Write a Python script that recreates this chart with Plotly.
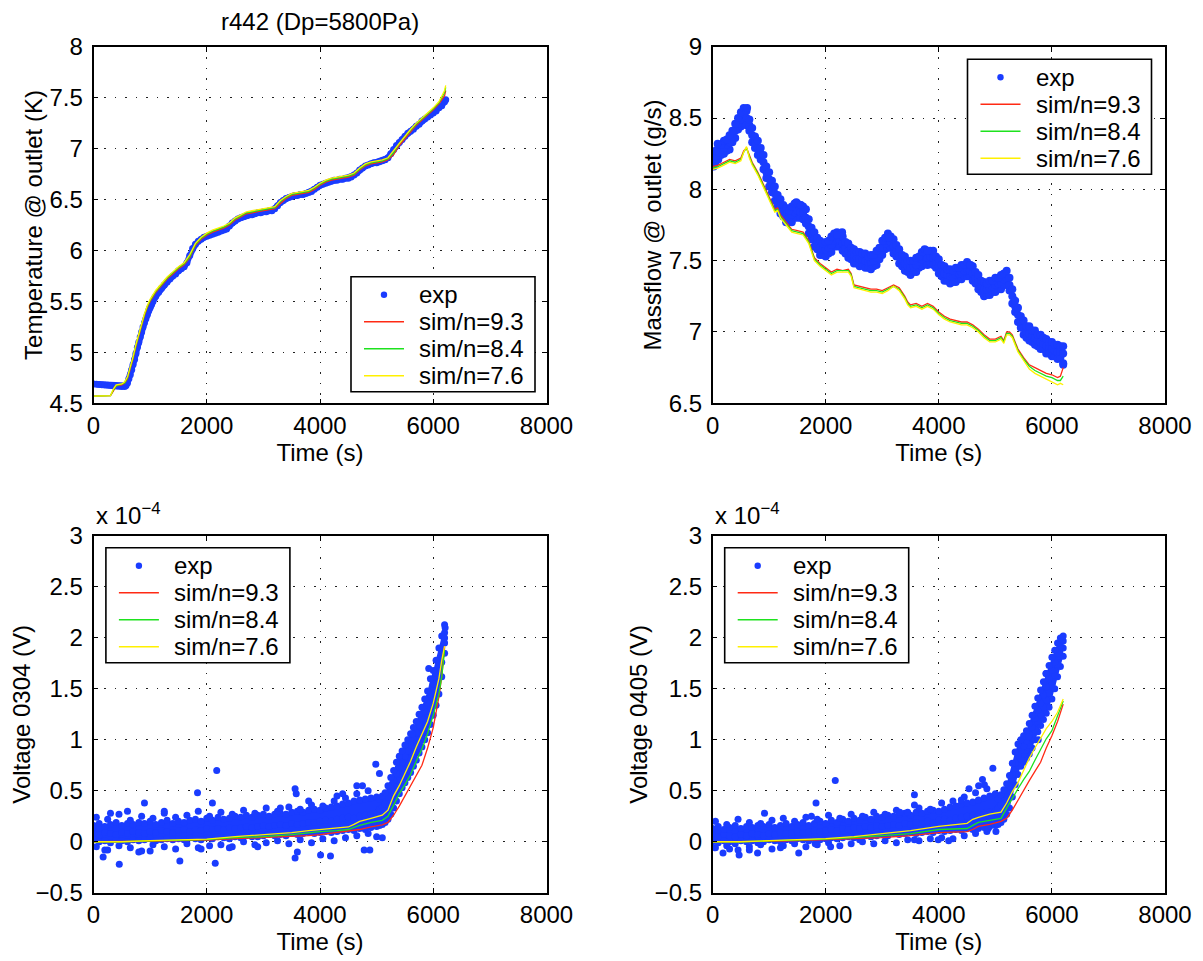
import plotly.graph_objects as go

# ---------------- Temperature @ outlet (K) ----------------
temp_exp_t = [0, 50, 100, 150, 200, 250, 300, 350, 400, 450, 500, 550,
              575, 600, 625, 650, 675, 700, 725, 750, 775, 800, 825, 850, 875, 900, 925, 950,
              975, 1000, 1025, 1050, 1075, 1100] + list(range(1150, 6201, 50)) + [6220]
temp_exp = [4.69, 4.688, 4.685, 4.682, 4.68, 4.678, 4.675, 4.672, 4.67, 4.668, 4.665, 4.665,
            4.675, 4.70, 4.74, 4.78, 4.83, 4.88, 4.93, 4.99, 5.05, 5.10, 5.15, 5.20, 5.25, 5.29,
            5.33, 5.37, 5.41, 5.44, 5.47, 5.50, 5.53, 5.55,
            5.59, 5.63, 5.66, 5.69, 5.72, 5.75, 5.77, 5.80, 5.82,
            5.84, 5.88, 5.95, 6.02, 6.06, 6.09, 6.11, 6.13, 6.14, 6.15,
            6.16, 6.17, 6.18, 6.19, 6.20, 6.21, 6.24, 6.27, 6.29, 6.31,
            6.32, 6.33, 6.34, 6.35, 6.35, 6.36, 6.37, 6.37, 6.38, 6.38,
            6.39, 6.39, 6.41, 6.44, 6.47, 6.49, 6.51, 6.52, 6.53, 6.54,
            6.54, 6.55, 6.55, 6.56, 6.57, 6.58, 6.60, 6.62, 6.64, 6.65,
            6.66, 6.67, 6.68, 6.69, 6.69, 6.70, 6.70, 6.71, 6.71, 6.72,
            6.74, 6.76, 6.79, 6.81, 6.83, 6.84, 6.85, 6.86, 6.86, 6.87,
            6.88, 6.89, 6.91, 6.95, 6.99, 7.03, 7.06, 7.09, 7.12, 7.15,
            7.17, 7.19, 7.22, 7.24, 7.27, 7.29, 7.31, 7.33, 7.35, 7.37,
            7.40, 7.42, 7.46, 7.48]

temp_sim_t = [0, 100, 200, 300, 350, 400, 500, 550,
              600, 650, 700, 750, 800, 850, 900, 950, 1000] + list(range(1100, 6201, 100)) + [6220]
temp_sim_93 = [4.57, 4.57, 4.57, 4.575, 4.62, 4.67, 4.68, 4.70,
               4.74, 4.83, 4.94, 5.06, 5.17, 5.27, 5.36, 5.44, 5.50,
               5.59, 5.66, 5.72, 5.77, 5.82, 5.86, 5.93, 6.05, 6.11, 6.15,
               6.18, 6.20, 6.22, 6.25, 6.30, 6.33, 6.36, 6.37, 6.38, 6.39,
               6.40, 6.41, 6.46, 6.51, 6.54, 6.55, 6.56, 6.57, 6.60, 6.64,
               6.67, 6.69, 6.70, 6.71, 6.72, 6.74, 6.79, 6.83, 6.85, 6.86,
               6.87, 6.89, 6.94, 7.03, 7.10, 7.17, 7.23, 7.28, 7.33, 7.38,
               7.44, 7.52, 7.57]
temp_sim_84 = [4.57, 4.57, 4.57, 4.575, 4.63, 4.67, 4.69, 4.70,
               4.75, 4.84, 4.95, 5.07, 5.18, 5.28, 5.37, 5.45, 5.51,
               5.60, 5.67, 5.73, 5.78, 5.83, 5.87, 5.94, 6.06, 6.12, 6.16,
               6.19, 6.21, 6.23, 6.26, 6.31, 6.34, 6.37, 6.38, 6.39, 6.40,
               6.41, 6.42, 6.48, 6.52, 6.55, 6.56, 6.57, 6.58, 6.61, 6.65,
               6.68, 6.70, 6.71, 6.72, 6.73, 6.75, 6.80, 6.84, 6.86, 6.87,
               6.88, 6.90, 6.96, 7.05, 7.12, 7.18, 7.24, 7.29, 7.34, 7.39,
               7.45, 7.55, 7.60]
temp_sim_76 = [4.57, 4.57, 4.57, 4.575, 4.64, 4.68, 4.69, 4.71,
               4.76, 4.85, 4.96, 5.08, 5.19, 5.29, 5.38, 5.46, 5.52,
               5.61, 5.68, 5.74, 5.79, 5.84, 5.88, 5.96, 6.07, 6.13, 6.17,
               6.20, 6.22, 6.24, 6.27, 6.32, 6.35, 6.38, 6.39, 6.40, 6.41,
               6.42, 6.43, 6.49, 6.53, 6.56, 6.57, 6.58, 6.59, 6.62, 6.66,
               6.69, 6.71, 6.72, 6.73, 6.74, 6.76, 6.81, 6.85, 6.87, 6.88,
               6.89, 6.91, 6.98, 7.06, 7.13, 7.19, 7.25, 7.30, 7.35, 7.40,
               7.46, 7.57, 7.62]

# ---------------- Massflow @ outlet (g/s) ----------------
mf_exp_t = list(range(0, 6201, 50))
mf_exp_mid = [8.21, 8.23, 8.26, 8.28, 8.29, 8.31, 8.33, 8.37, 8.41, 8.46,
              8.49, 8.53, 8.50, 8.45, 8.38, 8.33, 8.29, 8.25, 8.19, 8.12,
              8.07, 8.02, 7.97, 7.92, 7.88, 7.85, 7.82, 7.81, 7.82, 7.84,
              7.85, 7.84, 7.84, 7.80, 7.74, 7.69, 7.65, 7.62, 7.59, 7.58,
              7.58, 7.59, 7.61, 7.64, 7.65, 7.64, 7.62, 7.59, 7.57, 7.55,
              7.53, 7.52, 7.51, 7.51, 7.50, 7.49, 7.49, 7.50, 7.52, 7.55,
              7.59, 7.62, 7.64, 7.63, 7.60, 7.57, 7.53, 7.50, 7.48, 7.46,
              7.45, 7.46, 7.47, 7.49, 7.51, 7.53, 7.52, 7.53, 7.52, 7.49,
              7.46, 7.43, 7.41, 7.40, 7.39, 7.39, 7.40, 7.41, 7.42, 7.43,
              7.44, 7.43, 7.41, 7.38, 7.35, 7.32, 7.30, 7.30, 7.31, 7.32,
              7.33, 7.34, 7.35, 7.37, 7.38, 7.33, 7.25, 7.18, 7.12, 7.07,
              7.03, 7.00, 6.99, 6.97, 6.96, 6.94, 6.93, 6.92, 6.90, 6.89,
              6.88, 6.87, 6.86, 6.86, 6.85]
mf_exp_hi = [8.26, 8.27, 8.31, 8.31, 8.34, 8.35, 8.38, 8.41, 8.46, 8.50,
             8.54, 8.57, 8.55, 8.49, 8.43, 8.37, 8.34, 8.29, 8.24, 8.16,
             8.12, 8.06, 8.02, 7.96, 7.93, 7.89, 7.87, 7.85, 7.88, 7.90,
             7.90, 7.89, 7.88, 7.86, 7.79, 7.73, 7.70, 7.66, 7.64, 7.62,
             7.63, 7.64, 7.67, 7.69, 7.70, 7.68, 7.67, 7.63, 7.62, 7.59,
             7.58, 7.56, 7.56, 7.55, 7.55, 7.53, 7.54, 7.54, 7.57, 7.59,
             7.64, 7.66, 7.69, 7.67, 7.65, 7.61, 7.58, 7.54, 7.53, 7.50,
             7.50, 7.50, 7.52, 7.53, 7.56, 7.58, 7.57, 7.57, 7.57, 7.53,
             7.51, 7.47, 7.46, 7.44, 7.44, 7.43, 7.45, 7.45, 7.47, 7.47,
             7.49, 7.47, 7.46, 7.42, 7.40, 7.36, 7.35, 7.34, 7.36, 7.36,
             7.38, 7.38, 7.40, 7.41, 7.43, 7.38, 7.30, 7.22, 7.17, 7.11,
             7.08, 7.04, 7.04, 7.01, 7.01, 6.98, 6.98, 6.96, 6.95, 6.93,
             6.93, 6.91, 6.91, 6.90, 6.90]
mf_exp_lo = [8.17, 8.19, 8.21, 8.24, 8.25, 8.27, 8.28, 8.33, 8.36, 8.42,
             8.44, 8.49, 8.45, 8.41, 8.33, 8.29, 8.24, 8.21, 8.14, 8.08,
             8.02, 7.98, 7.92, 7.88, 7.83, 7.81, 7.77, 7.77, 7.77, 7.80,
             7.80, 7.80, 7.79, 7.76, 7.69, 7.65, 7.60, 7.58, 7.54, 7.54,
             7.53, 7.55, 7.56, 7.60, 7.60, 7.60, 7.57, 7.55, 7.52, 7.51,
             7.48, 7.48, 7.46, 7.47, 7.45, 7.45, 7.44, 7.46, 7.47, 7.51,
             7.54, 7.58, 7.59, 7.59, 7.55, 7.53, 7.48, 7.46, 7.43, 7.42,
             7.40, 7.42, 7.42, 7.45, 7.46, 7.49, 7.47, 7.49, 7.47, 7.45,
             7.41, 7.39, 7.36, 7.36, 7.34, 7.35, 7.35, 7.37, 7.37, 7.39,
             7.39, 7.39, 7.36, 7.34, 7.30, 7.28, 7.25, 7.26, 7.26, 7.28,
             7.28, 7.30, 7.30, 7.33, 7.33, 7.29, 7.20, 7.14, 7.07, 7.03,
             6.98, 6.96, 6.94, 6.93, 6.91, 6.90, 6.88, 6.88, 6.85, 6.85,
             6.83, 6.83, 6.81, 6.82, 6.78]
mf_out_t = [2290, 1480, 1560, 610, 6200, 3120, 4560, 2200, 3800, 90, 20]
mf_out = [7.70, 7.91, 7.89, 8.57, 6.77, 7.66, 7.47, 7.68, 7.57, 8.32, 8.16]

mf_sim_t = [0, 100, 200, 300, 400, 500, 550, 600, 650, 700, 800, 900, 1000, 1100, 1150,
            1200, 1300, 1400, 1500, 1600, 1700, 1750, 1800, 1900, 2000, 2100, 2200, 2300,
            2400, 2450, 2500, 2600, 2700, 2800, 2900, 3000, 3100, 3200, 3300, 3400, 3450,
            3500, 3600, 3700, 3800, 3900, 4000, 4100, 4200, 4300, 4400, 4500, 4600, 4700,
            4800, 4900, 5000, 5100, 5150, 5200, 5250, 5300, 5400, 5500, 5600, 5700, 5800,
            5900, 6000, 6100, 6150, 6200]
mf_sim_93 = [8.16, 8.17, 8.19, 8.21, 8.20, 8.22, 8.27, 8.29, 8.24, 8.19,
             8.12, 8.03, 7.94, 7.86, 7.87, 7.82, 7.77, 7.72, 7.71, 7.70,
             7.64, 7.58, 7.52, 7.48, 7.45, 7.42, 7.44, 7.43, 7.44, 7.41,
             7.33, 7.32, 7.31, 7.30, 7.30, 7.29, 7.31, 7.33, 7.31, 7.25,
             7.21, 7.19, 7.20, 7.18, 7.20, 7.18, 7.14, 7.11, 7.09, 7.08,
             7.07, 7.07, 7.05, 7.02, 6.98, 6.95, 6.95, 6.97, 6.94, 7.00,
             7.00, 6.98, 6.88, 6.82, 6.77, 6.75, 6.73, 6.71, 6.70, 6.68,
             6.69, 6.75]
mf_sim_84 = [8.15, 8.16, 8.18, 8.20, 8.19, 8.21, 8.26, 8.29, 8.23, 8.18,
             8.11, 8.02, 7.93, 7.85, 7.86, 7.81, 7.76, 7.71, 7.70, 7.69,
             7.63, 7.57, 7.51, 7.47, 7.44, 7.41, 7.43, 7.43, 7.43, 7.40,
             7.32, 7.31, 7.30, 7.29, 7.29, 7.28, 7.30, 7.32, 7.30, 7.24,
             7.20, 7.18, 7.19, 7.17, 7.19, 7.17, 7.13, 7.10, 7.08, 7.07,
             7.06, 7.06, 7.04, 7.01, 6.97, 6.94, 6.94, 6.96, 6.93, 6.99,
             6.99, 6.97, 6.87, 6.81, 6.76, 6.73, 6.71, 6.69, 6.68, 6.66,
             6.66, 6.69]
mf_sim_76 = [8.14, 8.15, 8.17, 8.19, 8.18, 8.20, 8.26, 8.30, 8.22, 8.17,
             8.10, 8.01, 7.92, 7.84, 7.85, 7.80, 7.75, 7.70, 7.69, 7.68,
             7.62, 7.56, 7.50, 7.46, 7.43, 7.40, 7.42, 7.42, 7.42, 7.39,
             7.31, 7.30, 7.29, 7.28, 7.28, 7.27, 7.29, 7.32, 7.29, 7.23,
             7.19, 7.17, 7.18, 7.16, 7.18, 7.16, 7.12, 7.09, 7.07, 7.06,
             7.05, 7.05, 7.03, 7.00, 6.96, 6.93, 6.93, 6.95, 6.92, 6.98,
             6.98, 6.96, 6.86, 6.80, 6.74, 6.71, 6.69, 6.67, 6.65, 6.63,
             6.64, 6.63]

# ---------------- Voltages (units of 1e-4 V) ----------------
v_flat_t = list(range(0, 5001, 100))
v_steep_t = list(range(5050, 6201, 50))
v_edge_t = list(range(50, 5001, 200))

v0304_flat_lo = [0.02, 0.00, 0.01, -0.01, 0.02, 0.01, 0.00, 0.02, 0.01, 0.02, 0.03, 0.01, 0.02,
                 0.03, 0.02, 0.03, 0.02, 0.04, 0.03, 0.02, 0.04, 0.03, 0.05, 0.04, 0.03, 0.05,
                 0.04, 0.06, 0.05, 0.05, 0.06, 0.07, 0.06, 0.07, 0.06, 0.08, 0.07, 0.08, 0.09,
                 0.08, 0.09, 0.10, 0.09, 0.10, 0.11, 0.12, 0.11, 0.13, 0.12, 0.14, 0.15]
v0304_flat_mid = [0.08, 0.07, 0.09, 0.08, 0.07, 0.09, 0.08, 0.10, 0.09, 0.08, 0.10, 0.09, 0.11,
                  0.10, 0.09, 0.11, 0.12, 0.10, 0.12, 0.11, 0.13, 0.12, 0.13, 0.12, 0.14, 0.13,
                  0.14, 0.15, 0.14, 0.15, 0.16, 0.15, 0.16, 0.17, 0.16, 0.18, 0.17, 0.18, 0.19,
                  0.19, 0.20, 0.21, 0.20, 0.22, 0.23, 0.24, 0.23, 0.25, 0.26, 0.27, 0.28]
v0304_flat_hi = [0.16, 0.18, 0.15, 0.17, 0.19, 0.16, 0.18, 0.17, 0.19, 0.18, 0.20, 0.17, 0.19,
                 0.21, 0.18, 0.20, 0.19, 0.21, 0.22, 0.20, 0.23, 0.21, 0.24, 0.22, 0.23, 0.25,
                 0.24, 0.26, 0.24, 0.26, 0.27, 0.25, 0.27, 0.28, 0.27, 0.29, 0.30, 0.29, 0.31,
                 0.32, 0.31, 0.33, 0.34, 0.35, 0.37, 0.38, 0.40, 0.41, 0.42, 0.43, 0.44]
v0304_edge_top = [0.24, 0.22, 0.27, 0.21, 0.25, 0.23, 0.28, 0.24, 0.26, 0.30, 0.25, 0.29, 0.27,
                  0.31, 0.28, 0.33, 0.30, 0.34, 0.32, 0.36, 0.35, 0.40, 0.43, 0.47, 0.50]
v0304_edge_bot = [-0.05, -0.08, -0.04, -0.06, -0.09, -0.03, -0.05, -0.07, -0.02, -0.06, -0.04, -0.03,
                  -0.05, 0.00, -0.03, -0.01, 0.01, -0.02, 0.02, -0.01, 0.03, 0.01, 0.04, 0.06, 0.08]
v0304_steep_lo = [0.16, 0.17, 0.19, 0.22, 0.27, 0.33, 0.40, 0.47, 0.53, 0.58, 0.63, 0.68,
                  0.74, 0.80, 0.87, 0.93, 1.00, 1.07, 1.15, 1.24, 1.34, 1.45, 1.62, 1.85]
v0304_steep_m1 = [0.24, 0.26, 0.28, 0.33, 0.40, 0.47, 0.54, 0.60, 0.66, 0.71, 0.76, 0.82,
                  0.88, 0.94, 1.00, 1.07, 1.14, 1.22, 1.30, 1.40, 1.50, 1.62, 1.76, 1.95]
v0304_steep_m2 = [0.32, 0.34, 0.37, 0.44, 0.52, 0.60, 0.67, 0.73, 0.78, 0.84, 0.89, 0.95,
                  1.01, 1.07, 1.14, 1.21, 1.28, 1.36, 1.45, 1.55, 1.65, 1.77, 1.90, 2.05]
v0304_steep_hi = [0.42, 0.45, 0.48, 0.55, 0.63, 0.70, 0.78, 0.84, 0.89, 0.95, 1.00, 1.06,
                  1.12, 1.18, 1.25, 1.32, 1.40, 1.48, 1.60, 1.68, 1.78, 1.90, 2.02, 2.13]
v0304_out_t = [900, 1837, 2176, 2100, 3560, 3580, 4985, 5050, 4750, 4650, 5920, 5630, 455, 170,
               1525, 2150, 3560, 4185, 4010, 4780, 4880, 300, 600, 1250, 3300, 4400, 200, 800,
               1000, 1900, 2400, 2900, 3600, 3800, 4300, 5000, 5100, 6210, 6200]
v0304_out = [0.38, 0.48, 0.70, 0.38, 0.52, 0.47, 0.76, 0.67, 0.55, 0.55, 1.70, 1.06, -0.22, -0.15,
             -0.19, -0.21, -0.16, -0.14, -0.13, -0.08, -0.08, 0.28, 0.30, 0.30, 0.33, 0.47, -0.08, -0.10,
             -0.09, -0.07, -0.06, -0.05, -0.10, 0.40, 0.45, 0.05, 0.04, 2.10, 2.00]

v0304_sim_t = [0, 500, 1000, 1500, 2000, 2500, 3000, 3500, 3800, 4000, 4300, 4500, 4600, 4700,
               4900, 5100, 5200, 5300, 5400, 5500, 5600, 5700, 5800, 5900, 6000, 6100, 6150, 6200]
v0304_sim_93 = [0.0, 0.0, 0.005, 0.01, 0.015, 0.03, 0.04, 0.05, 0.06, 0.07, 0.09, 0.10, 0.11, 0.12,
                0.145, 0.165, 0.19, 0.26, 0.35, 0.45, 0.55, 0.64, 0.75, 0.92, 1.12, 1.42, 1.62, 1.92]
v0304_sim_84 = [0.0, 0.0, 0.008, 0.015, 0.02, 0.04, 0.05, 0.07, 0.09, 0.10, 0.11, 0.12, 0.14, 0.16,
                0.19, 0.21, 0.25, 0.36, 0.47, 0.56, 0.66, 0.79, 0.91, 1.06, 1.24, 1.45, 1.62, 1.88]
v0304_sim_76 = [0.0, 0.0, 0.01, 0.02, 0.026, 0.05, 0.07, 0.09, 0.11, 0.12, 0.14, 0.145, 0.17, 0.20,
                0.23, 0.26, 0.31, 0.45, 0.55, 0.67, 0.79, 0.93, 1.05, 1.18, 1.36, 1.60, 1.78, 1.92]

v0405_flat_lo = [0.00, -0.01, 0.01, 0.00, -0.02, 0.01, 0.00, 0.01, -0.01, 0.00, 0.02, 0.01, 0.00,
                 0.02, 0.01, 0.03, 0.02, 0.01, 0.03, 0.02, 0.03, 0.04, 0.03, 0.04, 0.05, 0.04,
                 0.05, 0.06, 0.05, 0.06, 0.07, 0.06, 0.08, 0.07, 0.08, 0.09, 0.08, 0.09, 0.10,
                 0.09, 0.11, 0.10, 0.11, 0.12, 0.11, 0.13, 0.12, 0.13, 0.14, 0.15, 0.16]
v0405_flat_mid = [0.06, 0.05, 0.07, 0.06, 0.05, 0.07, 0.06, 0.08, 0.07, 0.06, 0.08, 0.07, 0.09,
                  0.08, 0.09, 0.10, 0.09, 0.10, 0.11, 0.10, 0.11, 0.12, 0.11, 0.13, 0.12, 0.14,
                  0.13, 0.15, 0.14, 0.16, 0.15, 0.16, 0.17, 0.16, 0.18, 0.17, 0.19, 0.18, 0.20,
                  0.19, 0.21, 0.22, 0.21, 0.23, 0.24, 0.25, 0.26, 0.27, 0.28, 0.29, 0.30]
v0405_flat_hi = [0.13, 0.15, 0.12, 0.14, 0.16, 0.13, 0.15, 0.14, 0.16, 0.15, 0.17, 0.14, 0.16,
                 0.18, 0.15, 0.17, 0.19, 0.16, 0.18, 0.20, 0.18, 0.21, 0.19, 0.22, 0.20, 0.23,
                 0.21, 0.24, 0.22, 0.25, 0.24, 0.26, 0.25, 0.27, 0.28, 0.26, 0.29, 0.28, 0.30,
                 0.31, 0.30, 0.32, 0.34, 0.35, 0.37, 0.38, 0.39, 0.41, 0.43, 0.45, 0.47]
v0405_edge_top = [0.20, 0.17, 0.22, 0.19, 0.18, 0.21, 0.23, 0.20, 0.24, 0.22, 0.26, 0.23, 0.27,
                  0.25, 0.29, 0.27, 0.31, 0.29, 0.33, 0.32, 0.38, 0.40, 0.44, 0.48, 0.52]
v0405_edge_bot = [-0.06, -0.04, -0.08, -0.05, -0.03, -0.07, -0.04, -0.02, -0.05, -0.03, -0.01, -0.04,
                  -0.02, 0.00, -0.02, 0.01, -0.01, 0.02, 0.01, 0.03, 0.04, 0.03, 0.06, 0.08, 0.10]
v0405_steep_lo = [0.17, 0.19, 0.22, 0.27, 0.33, 0.44, 0.56, 0.66, 0.74, 0.78, 0.82, 0.86,
                  0.92, 1.00, 1.08, 1.14, 1.20, 1.26, 1.32, 1.40, 1.50, 1.62, 1.72, 1.82]
v0405_steep_m1 = [0.25, 0.28, 0.32, 0.37, 0.44, 0.55, 0.66, 0.75, 0.82, 0.86, 0.90, 0.95,
                  1.02, 1.10, 1.18, 1.25, 1.32, 1.39, 1.46, 1.54, 1.63, 1.74, 1.82, 1.90]
v0405_steep_m2 = [0.33, 0.36, 0.41, 0.47, 0.55, 0.66, 0.77, 0.85, 0.90, 0.94, 0.99, 1.05,
                  1.12, 1.21, 1.29, 1.36, 1.44, 1.52, 1.60, 1.68, 1.76, 1.85, 1.92, 1.97]
v0405_steep_hi = [0.42, 0.46, 0.51, 0.57, 0.65, 0.77, 0.88, 0.96, 1.00, 1.04, 1.09, 1.16,
                  1.24, 1.33, 1.41, 1.49, 1.57, 1.65, 1.73, 1.81, 1.88, 1.95, 2.00, 2.02]
v0405_out_t = [2169, 1829, 918, 3569, 3569, 4772, 4956, 184, 469, 795, 1523, 3990, 4174, 3569,
               2087, 1815, 4874, 5010, 5214, 1747, 3311, 4398, 4534, 4704, 4806, 5894, 5588,
               5758, 650, 1200, 2600, 300]
v0405_out = [0.60, 0.38, 0.28, 0.46, 0.36, 0.61, 0.72, -0.11, -0.13, -0.11, -0.11, 0.02, 0.01, 0.02,
             -0.05, -0.02, 0.13, 0.10, 0.44, 0.25, 0.29, 0.41, 0.52, 0.55, 0.56, 1.65, 1.03,
             1.00, -0.08, -0.06, 0.02, -0.07]

v0405_sim_t = [0, 500, 1000, 1500, 2000, 2500, 3000, 3500, 4000, 4500, 4600, 4700, 4900, 5100,
               5200, 5300, 5400, 5500, 5600, 5700, 5800, 5900, 6000, 6100, 6200]
v0405_sim_93 = [0.0, 0.0, 0.005, 0.01, 0.02, 0.03, 0.04, 0.06, 0.09, 0.10, 0.12, 0.15, 0.17, 0.20,
                0.23, 0.31, 0.41, 0.51, 0.60, 0.69, 0.78, 0.92, 1.04, 1.18, 1.35]
v0405_sim_84 = [0.0, 0.0, 0.008, 0.015, 0.025, 0.04, 0.06, 0.08, 0.12, 0.13, 0.16, 0.19, 0.21, 0.23,
                0.33, 0.43, 0.52, 0.61, 0.69, 0.80, 0.91, 1.01, 1.09, 1.23, 1.38]
v0405_sim_76 = [0.0, 0.0, 0.01, 0.02, 0.03, 0.05, 0.08, 0.11, 0.15, 0.18, 0.22, 0.24, 0.27, 0.29,
                0.38, 0.49, 0.58, 0.70, 0.82, 0.92, 1.01, 1.11, 1.18, 1.27, 1.40]

# ---------------- Labels ----------------
legend_names = ["exp", "sim/n=9.3", "sim/n=8.4", "sim/n=7.6"]
main_title = "r442 (Dp=5800Pa)"
x_title = "Time (s)"
y_titles = ["Temperature @ outlet (K)", "Massflow @ outlet (g/s)",
            "Voltage 0304 (V)", "Voltage 0405 (V)"]
x_ticks = [0, 2000, 4000, 6000, 8000]
exponent_label = "x 10<sup>\u22124</sup>"

# ---------------- Styling ----------------
FONT = "Liberation Sans, Arial, Helvetica, sans-serif"
FS = 24
C_EXP = "#1a3cff"
C_RED = "#ff2a14"
C_GRN = "#1ee21e"
C_YEL = "#fff000"
sim_colors = [C_RED, C_GRN, C_YEL]

# the page body adds an 8px offset; the figure is sized so that it ends at the window edge
OX, OY = 8, 8
W, H = 1203 - OX, 961 - OY


def PX(x):
    return (x - OX) / W


def PY(y):
    return 1 - (y - OY) / H


fig = go.Figure()


def add_exp_band(ax, t, lo, hi):
    # dense core of the measured cloud (between its read lower and upper edges)
    fig.add_trace(go.Scatter(x=t + t[::-1], y=lo + hi[::-1], mode="lines", fill="toself",
                             fillcolor=C_EXP, line=dict(width=0, color=C_EXP),
                             hoverinfo="skip", showlegend=False,
                             xaxis="x" + ax, yaxis="y" + ax))


def add_panel(k, ex, ey, st, sims, band=None, thick=False, msize=7):
    ax = "" if k == 1 else str(k)
    if band is not None:
        for b in band:
            add_exp_band(ax, *b)
    if thick:
        fig.add_trace(go.Scatter(x=ex, y=ey, mode="lines", line=dict(color=C_EXP, width=6),
                                 hoverinfo="skip", showlegend=False,
                                 xaxis="x" + ax, yaxis="y" + ax))
    fig.add_trace(go.Scatter(x=ex, y=ey, mode="markers", name=legend_names[0],
                             marker=dict(color=C_EXP, size=msize, line=dict(width=0)),
                             showlegend=False, xaxis="x" + ax, yaxis="y" + ax))
    for i, s in enumerate(sims):
        fig.add_trace(go.Scatter(x=st, y=s, mode="lines", name=legend_names[i + 1],
                                 line=dict(color=sim_colors[i], width=1.3), showlegend=False,
                                 xaxis="x" + ax, yaxis="y" + ax))


add_panel(1, temp_exp_t, temp_exp, temp_sim_t, [temp_sim_93, temp_sim_84, temp_sim_76], thick=True)
add_panel(2, mf_exp_t + mf_exp_t + mf_exp_t + mf_out_t,
          mf_exp_lo + mf_exp_mid + mf_exp_hi + mf_out,
          mf_sim_t, [mf_sim_93, mf_sim_84, mf_sim_76],
          band=[(mf_exp_t, mf_exp_lo, mf_exp_hi)], msize=8)
add_panel(3, v_flat_t * 3 + v_steep_t * 4 + v_edge_t * 2 + v0304_out_t,
          v0304_flat_lo + v0304_flat_mid + v0304_flat_hi + v0304_steep_lo + v0304_steep_m1
          + v0304_steep_m2 + v0304_steep_hi + v0304_edge_top + v0304_edge_bot + v0304_out,
          v0304_sim_t, [v0304_sim_93, v0304_sim_84, v0304_sim_76],
          band=[(v_flat_t + v_steep_t, v0304_flat_lo + v0304_steep_lo, v0304_flat_hi + v0304_steep_hi)])
add_panel(4, v_flat_t * 3 + v_steep_t * 4 + v_edge_t * 2 + v0405_out_t,
          v0405_flat_lo + v0405_flat_mid + v0405_flat_hi + v0405_steep_lo + v0405_steep_m1
          + v0405_steep_m2 + v0405_steep_hi + v0405_edge_top + v0405_edge_bot + v0405_out,
          v0405_sim_t, [v0405_sim_93, v0405_sim_84, v0405_sim_76],
          band=[(v_flat_t + v_steep_t, v0405_flat_lo + v0405_steep_lo, v0405_flat_hi + v0405_steep_hi)])

XL = [PX(93.5), PX(546.5)]
XR = [PX(712.6), PX(1165.0)]
YT = [PY(403.3), PY(46.7)]
YB = [PY(892.7), PY(536.0)]

common = dict(showline=True, linecolor="black", linewidth=1.6, mirror="allticks",
              ticks="inside", ticklen=5, tickcolor="black", tickwidth=1,
              showgrid=True, gridcolor="#222", gridwidth=1.3, griddash="1.5px,9px",
              zeroline=False, automargin=False,
              tickfont=dict(family=FONT, size=FS, color="black"))


def xax(dom, anchor):
    return dict(common, domain=dom, anchor=anchor, range=[0, 8000], tickvals=x_ticks,
                ticklabelstandoff=0,
                title=dict(text=x_title, font=dict(family=FONT, size=FS, color="black"), standoff=6))


def yax(dom, anchor, rng, title):
    return dict(common, domain=dom, anchor=anchor, range=rng, dtick=0.5, tick0=0,
                ticklabelstandoff=4,
                title=dict(text=title, font=dict(family=FONT, size=FS, color="black"), standoff=0))


# ---------------- Manual legend boxes (MATLAB style) ----------------
shapes = []
annotations = []


def legend_box(left, top):
    bw, bh = 184, 115
    shapes.append(dict(type="rect", xref="paper", yref="paper",
                       x0=PX(left), x1=PX(left + bw), y0=PY(top + bh), y1=PY(top),
                       line=dict(color="black", width=1.6), fillcolor="white", layer="above"))
    rows = [18, 45, 72, 99]
    cy = top + rows[0]
    cx = left + 33
    r = 3.2
    shapes.append(dict(type="circle", xref="paper", yref="paper",
                       x0=PX(cx - r), x1=PX(cx + r), y0=PY(cy + r), y1=PY(cy - r),
                       line=dict(width=0), fillcolor=C_EXP, layer="above"))
    for i, c in enumerate(sim_colors):
        yy = PY(top + rows[i + 1])
        shapes.append(dict(type="line", xref="paper", yref="paper",
                           x0=PX(left + 13), x1=PX(left + 53), y0=yy, y1=yy,
                           line=dict(color=c, width=1.6), layer="above"))
    for i, name in enumerate(legend_names):
        annotations.append(dict(text=name, x=PX(left + 66), y=PY(top + rows[i]),
                                xref="paper", yref="paper", xanchor="left", yanchor="middle",
                                showarrow=False, font=dict(family=FONT, size=FS, color="black")))


legend_box(351, 276.7)
legend_box(967.5, 59.3)
legend_box(105.9, 547.7)
legend_box(724.7, 547.7)

annotations += [
    dict(text=main_title, x=(XL[0] + XL[1]) / 2, y=PY(21.7), xref="paper", yref="paper",
         xanchor="center", yanchor="middle", showarrow=False,
         font=dict(family=FONT, size=FS, color="black")),
    dict(text=exponent_label, x=XL[0], y=PY(514), xref="paper", yref="paper",
         xanchor="left", yanchor="middle", showarrow=False,
         font=dict(family=FONT, size=FS, color="black")),
    dict(text=exponent_label, x=XR[0], y=PY(514), xref="paper", yref="paper",
         xanchor="left", yanchor="middle", showarrow=False,
         font=dict(family=FONT, size=FS, color="black")),
]

fig.update_layout(
    width=W, height=H, margin=dict(l=0, r=0, t=0, b=0),
    paper_bgcolor="white", plot_bgcolor="white",
    font=dict(family=FONT, size=FS, color="black"),
    showlegend=False,
    xaxis=xax(XL, "y"), yaxis=yax(YT, "x", [4.5, 8], y_titles[0]),
    xaxis2=xax(XR, "y2"), yaxis2=yax(YT, "x2", [6.5, 9], y_titles[1]),
    xaxis3=xax(XL, "y3"), yaxis3=yax(YB, "x3", [-0.5, 3], y_titles[2]),
    xaxis4=xax(XR, "y4"), yaxis4=yax(YB, "x4", [-0.5, 3], y_titles[3]),
    shapes=shapes,
    annotations=annotations,
)

fig.write_html("out.html")
